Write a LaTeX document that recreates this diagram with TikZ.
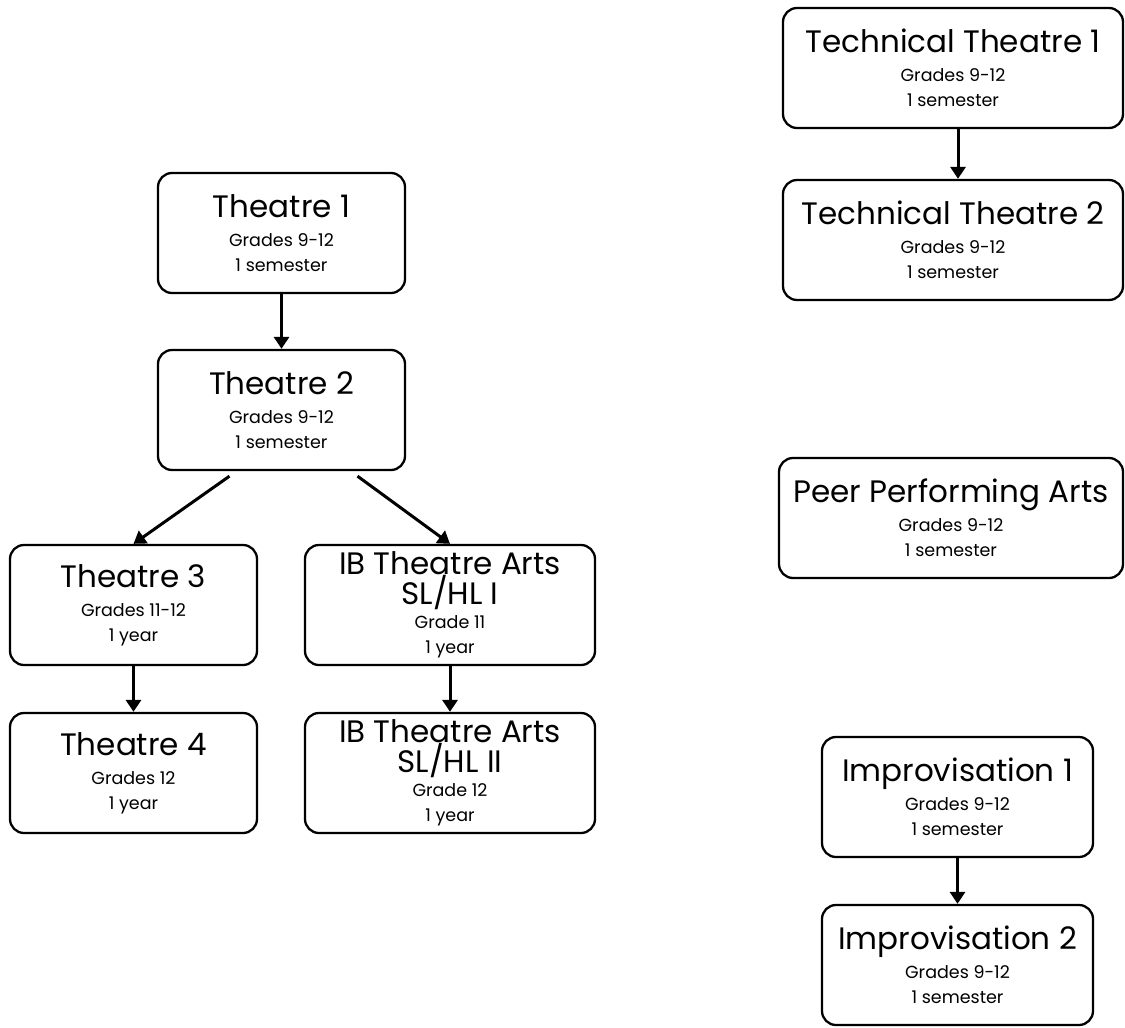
\documentclass[tikz,border=0pt]{standalone}
\usepackage{fontspec}
\setmainfont{Poppins}
\usetikzlibrary{arrows.meta}

\newcommand{\bigline}{\fontsize{31}{29}\selectfont}
\newcommand{\smallline}{\fontsize{17.5}{25}\selectfont}

\begin{document}
\begin{tikzpicture}[x=1pt,y=-1pt,
  course/.style={draw,line width=2.3pt,rounded corners=14pt,align=center,minimum height=120pt,inner sep=0pt,font=\fontsize{17.5}{25}\selectfont},
  link/.style={line width=3pt,-{Triangle[width=15pt,length=12pt]}}]
\useasboundingbox (0,0) rectangle (1125,1028);
% left column
\node[course,minimum width=247pt] (th1) at (281.5,233) {\bigline Theatre 1\\[4pt]\smallline Grades 9-12\\\smallline 1 semester};
\node[course,minimum width=247pt] (th2) at (281.5,410) {\bigline Theatre 2\\[4pt]\smallline Grades 9-12\\\smallline 1 semester};
\node[course,minimum width=247pt] (th3) at (133.5,605) {\bigline Theatre 3\\[4pt]\smallline Grades 11-12\\\smallline 1 year};
\node[course,minimum width=290pt] (ib1) at (450,605) {\bigline IB Theatre Arts\\[-1pt]\bigline SL/HL I\\[-1pt]\smallline Grade 11\\\smallline 1 year};
\node[course,minimum width=247pt] (th4) at (133.5,773) {\bigline Theatre 4\\[4pt]\smallline Grades 12\\\smallline 1 year};
\node[course,minimum width=290pt] (ib2) at (450,773) {\bigline IB Theatre Arts\\[-1pt]\bigline SL/HL II\\[-1pt]\smallline Grade 12\\\smallline 1 year};
% right column
\node[course,minimum width=340pt] (tt1) at (953,68) {\bigline Technical Theatre 1\\[4pt]\smallline Grades 9-12\\\smallline 1 semester};
\node[course,minimum width=340pt] (tt2) at (953,240) {\bigline Technical Theatre 2\\[4pt]\smallline Grades 9-12\\\smallline 1 semester};
\node[course,minimum width=344pt] (peer) at (951,518) {\bigline Peer Performing Arts\\[4pt]\smallline Grades 9-12\\\smallline 1 semester};
\node[course,minimum width=271pt] (imp1) at (957.5,797) {\bigline Improvisation 1\\[4pt]\smallline Grades 9-12\\\smallline 1 semester};
\node[course,minimum width=271pt] (imp2) at (957.5,965) {\bigline Improvisation 2\\[4pt]\smallline Grades 9-12\\\smallline 1 semester};
% arrows
\coordinate (ttx) at (958,0);
\draw[link] (th1) -- (th2);
\draw[link] ([xshift=-52pt,yshift=-5pt]th2.south) -- (th3.north);
\draw[link] ([xshift=76pt,yshift=-5pt]th2.south) -- (ib1.north);
\draw[link] (th3) -- (th4);
\draw[link] (ib1) -- (ib2);
\draw[link] (tt1.south -| ttx) -- (tt2.north -| ttx);
\draw[link] (imp1) -- (imp2);
\end{tikzpicture}
\end{document}
